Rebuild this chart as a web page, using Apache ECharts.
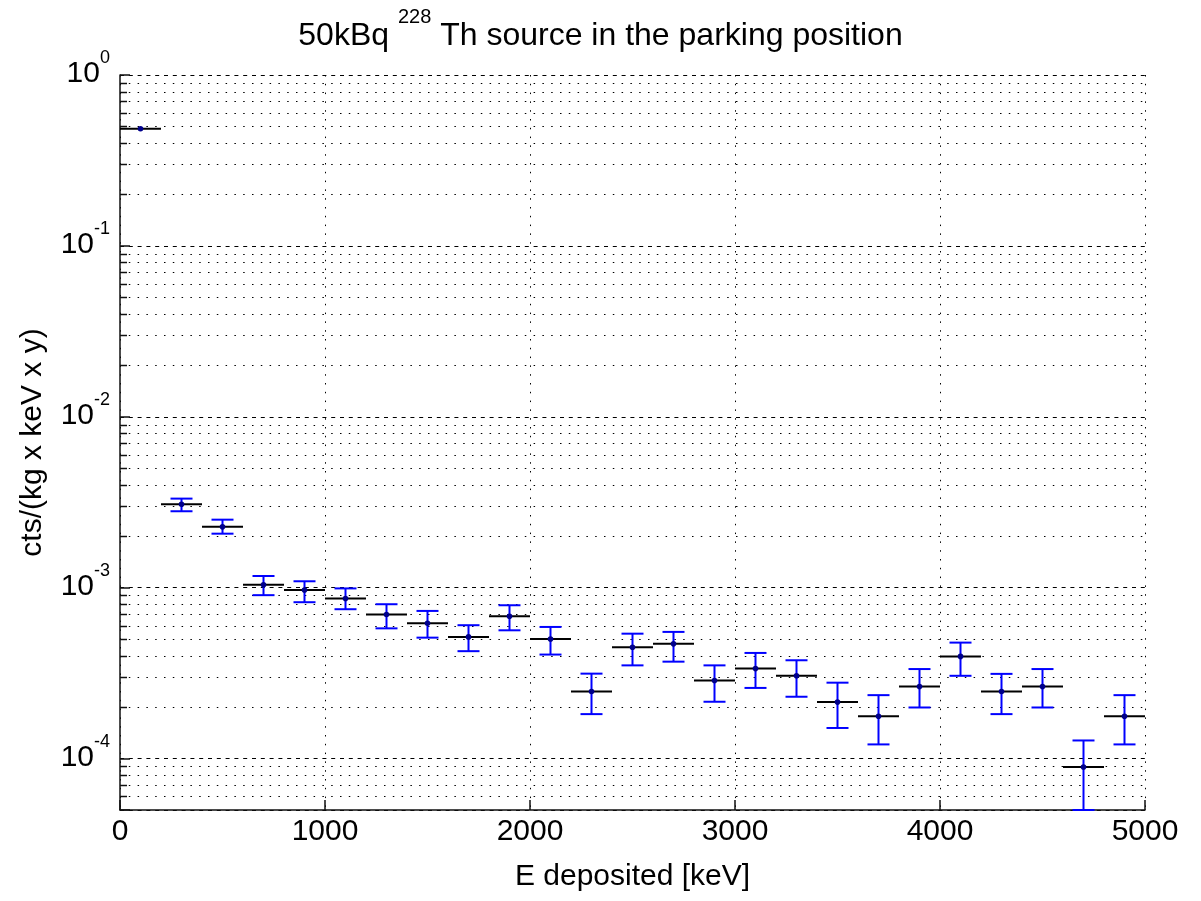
<!DOCTYPE html>
<html>
<head>
<meta charset="utf-8">
<script src="https://cdn.jsdelivr.net/npm/echarts@6/dist/echarts.min.js"></script>
<style>
  html, body { margin: 0; padding: 0; background: #fff; }
  #chart { width: 1201px; height: 901px; }
</style>
</head>
<body>
<div id="chart"></div>
<script>
// bin centres and edges [keV]
var binCenter = [100, 300, 500, 700, 900, 1100, 1300, 1500, 1700, 1900, 2100, 2300, 2500,
                 2700, 2900, 3100, 3300, 3500, 3700, 3900, 4100, 4300, 4500, 4700, 4900];
var binLow    = [0, 200, 400, 600, 800, 1000, 1200, 1400, 1600, 1800, 2000, 2200, 2400,
                 2600, 2800, 3000, 3200, 3400, 3600, 3800, 4000, 4200, 4400, 4600, 4800];
var binHigh   = [200, 400, 600, 800, 1000, 1200, 1400, 1600, 1800, 2000, 2200, 2400, 2600,
                 2800, 3000, 3200, 3400, 3600, 3800, 4000, 4200, 4400, 4600, 4800, 5000];

// rate in cts/(kg x keV x y), with lower / upper end of the error bar
var rate     = [0.485, 3.08e-3, 2.27e-3, 1.04e-3, 0.97e-3, 0.865e-3, 0.697e-3, 0.619e-3, 0.515e-3,
                0.681e-3, 0.501e-3, 0.247e-3, 0.448e-3, 0.469e-3, 0.286e-3, 0.336e-3, 0.305e-3,
                0.214e-3, 0.177e-3, 0.264e-3, 0.396e-3, 0.247e-3, 0.264e-3, 0.0893e-3, 0.177e-3];
var rateLow  = [0.482, 2.80e-3, 2.07e-3, 0.904e-3, 0.822e-3, 0.748e-3, 0.578e-3, 0.51e-3, 0.425e-3,
                0.563e-3, 0.406e-3, 0.182e-3, 0.351e-3, 0.369e-3, 0.215e-3, 0.259e-3, 0.230e-3,
                0.151e-3, 0.121e-3, 0.199e-3, 0.305e-3, 0.182e-3, 0.199e-3, 0.05e-3, 0.121e-3];
var rateHigh = [0.488, 3.32e-3, 2.50e-3, 1.17e-3, 1.09e-3, 0.99e-3, 0.80e-3, 0.731e-3, 0.603e-3,
                0.789e-3, 0.589e-3, 0.314e-3, 0.538e-3, 0.551e-3, 0.351e-3, 0.415e-3, 0.376e-3,
                0.278e-3, 0.235e-3, 0.334e-3, 0.477e-3, 0.313e-3, 0.334e-3, 0.1276e-3, 0.235e-3];

// minor log grid: mantissas 2..9 of every decade in range
var minorMantissa = [2, 3, 4, 5, 6, 7, 8, 9];
var gridDecades = [-5, -4, -3, -2, -1];

var FONT = 'Liberation Sans, Helvetica, Arial, sans-serif';
var yMin = 5e-5, yMax = 1;

var minorGrid = [];
gridDecades.forEach(function (d) {
    minorMantissa.forEach(function (m) {
        var v = m * Math.pow(10, d);
        if (v > yMin * 1.0001 && v < yMax) minorGrid.push([0, v]);
    });
});

var points = binCenter.map(function (x, i) {
    return [x, rate[i], rateLow[i], rateHigh[i], binLow[i], binHigh[i]];
});

var chart = echarts.init(document.getElementById('chart'));

var option = {
    backgroundColor: '#fff',
    animation: false,
    title: {
        left: 'center',
        top: 7,
        padding: 0,
        text: '{t|50kBq }{s|228}{t| Th source in the parking position}',
        textStyle: {
            fontWeight: 'normal',
            rich: {
                t: { fontFamily: FONT, fontSize: 32, fontWeight: 'normal', color: '#000', lineHeight: 45, verticalAlign: 'bottom' },
                s: { fontFamily: FONT, fontSize: 20, fontWeight: 'normal', color: '#000', lineHeight: 20, verticalAlign: 'top' }
            }
        }
    },
    grid: { left: 120, top: 75, width: 1025, height: 735, containLabel: false },
    xAxis: {
        type: 'value',
        min: 0,
        max: 5000,
        interval: 1000,
        name: 'E deposited [keV]',
        nameLocation: 'middle',
        nameGap: 52,
        nameTextStyle: { fontFamily: FONT, fontSize: 30, color: '#000' },
        axisLine: { onZero: false, lineStyle: { color: '#111', width: 1.5 } },
        axisTick: { inside: true, length: 10, lineStyle: { color: '#111', width: 1.5 } },
        axisLabel: {
            fontFamily: FONT, fontSize: 30, color: '#000', margin: 7,
            formatter: function (v) { return String(v); }
        },
        splitLine: { show: true, lineStyle: { color: '#000', width: 1, type: [1.5, 7.3] } }
    },
    yAxis: {
        type: 'log',
        logBase: 10,
        min: yMin,
        max: yMax,
        name: 'cts/(kg x keV x y)',
        nameLocation: 'middle',
        nameGap: 72,
        nameTextStyle: { fontFamily: FONT, fontSize: 30, color: '#000' },
        axisLine: { show: true, lineStyle: { color: '#111', width: 1.5 } },
        axisTick: { inside: true, length: 10, lineStyle: { color: '#111', width: 1.5 } },
        axisLabel: {
            margin: 10,
            padding: [0, 0, 12, 0],
            formatter: function (v) {
                var lg = Math.log10(v);
                var e = Math.round(lg);
                if (Math.abs(lg - e) > 1e-6) return '';
                return '{b|10}{s|' + e + '}';
            },
            rich: {
                b: { fontFamily: FONT, fontSize: 30, color: '#000', lineHeight: 40, verticalAlign: 'bottom' },
                s: { fontFamily: FONT, fontSize: 18, color: '#000', lineHeight: 18, verticalAlign: 'top' }
            }
        },
        splitLine: { show: true, lineStyle: { color: '#000', width: 1, type: [4, 4.8] } }
    },
    series: [
        {
            name: 'minor grid',
            type: 'custom',
            silent: true,
            z: 1,
            encode: { x: 0, y: 1 },
            data: minorGrid,
            renderItem: function (params, api) {
                var cs = params.coordSys;
                var y = Math.round(api.coord([0, api.value(1)])[1]) + 0.5;
                return {
                    type: 'group',
                    children: [
                        { type: 'line', shape: { x1: cs.x, y1: y, x2: cs.x + cs.width, y2: y },
                          style: { stroke: '#000', lineWidth: 1, lineDash: [1.5, 7.3] } },
                        { type: 'line', shape: { x1: cs.x, y1: y, x2: cs.x + 7, y2: y },
                          style: { stroke: '#111', lineWidth: 1.5 } }
                    ]
                };
            }
        },
        {
            name: 'rate',
            type: 'custom',
            z: 5,
            encode: { x: 0, y: 1 },
            data: points,
            renderItem: function (params, api) {
                var x = api.value(0), y = api.value(1);
                var c = api.coord([x, y]);
                var pl = api.coord([api.value(4), y]);
                var pr = api.coord([api.value(5), y]);
                var lo = api.coord([x, api.value(2)]);
                var hi = api.coord([x, api.value(3)]);
                // caps shrink when the bar is shorter than the cap
                var cap = Math.min(11, Math.abs(lo[1] - hi[1]));
                var blue = { stroke: '#0000ff', lineWidth: 2 };
                return {
                    type: 'group',
                    children: [
                        { type: 'line', shape: { x1: c[0], y1: lo[1], x2: c[0], y2: hi[1] }, style: blue },
                        { type: 'line', shape: { x1: c[0] - cap, y1: lo[1], x2: c[0] + cap, y2: lo[1] }, style: blue },
                        { type: 'line', shape: { x1: c[0] - cap, y1: hi[1], x2: c[0] + cap, y2: hi[1] }, style: blue },
                        { type: 'line', shape: { x1: pl[0], y1: c[1], x2: pr[0], y2: c[1] },
                          style: { stroke: '#000', lineWidth: 2 } },
                        { type: 'circle', shape: { cx: c[0], cy: c[1], r: 2.8 }, style: { fill: '#00008b' } }
                    ]
                };
            }
        }
    ]
};

chart.setOption(option);
</script>
</body>
</html>
